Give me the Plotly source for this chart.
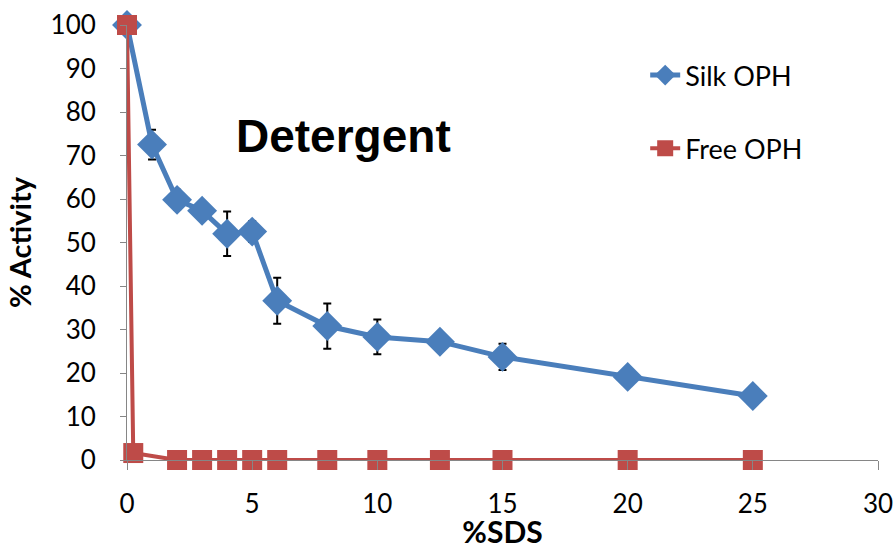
import plotly.graph_objects as go

sds_silk = [0, 1, 2, 3, 4, 5, 6, 8, 10, 12.5, 15, 20, 25]
silk_activity = [100, 72.5, 59.8, 57.3, 52.0, 52.5, 36.6, 30.8, 28.3, 27.2, 23.7, 19.1, 14.7]
silk_error = [0, 3.4, 2.3, 0, 5.1, 2.4, 5.3, 5.2, 4.0, 0, 3.0, 0, 0]

sds_free = [0, 0.25, 2, 3, 4, 5, 6, 8, 10, 12.5, 15, 20, 25]
free_activity = [100, 1.6, 0, 0, 0, 0, 0, 0, 0, 0, 0, 0, 0]

x_ticks = [0, 5, 10, 15, 20, 25, 30]
y_ticks = [0, 10, 20, 30, 40, 50, 60, 70, 80, 90, 100]

BLUE = "#4A7EBB"
RED = "#BE4B48"
FONT = "Lato"

fig = go.Figure()
fig.add_trace(go.Scatter(
    x=sds_silk, y=silk_activity, name="Silk OPH", mode="lines+markers",
    line=dict(color=BLUE, width=5),
    marker=dict(symbol="diamond", size=23, color=BLUE),
    error_y=dict(type="data", array=silk_error, visible=True, color="black", thickness=2, width=4),
    cliponaxis=False, legendgroup="a",
))
fig.add_trace(go.Scatter(
    x=sds_free, y=free_activity, name="Free OPH", mode="lines+markers",
    line=dict(color=RED, width=4),
    marker=dict(symbol="square", size=20, color=RED),
    cliponaxis=False, legendgroup="b",
))

fig.add_annotation(
    x=0.288, y=0.745, xref="paper", yref="paper", text="<b>Detergent</b>",
    xanchor="center", yanchor="middle",
    showarrow=False, font=dict(family="Liberation Sans", size=46, color="black"),
)

fig.update_layout(
    width=895, height=549,
    margin=dict(l=127, r=17, t=25, b=89, autoexpand=False),
    paper_bgcolor="white", plot_bgcolor="white",
    font=dict(family=FONT, color="black"),
    showlegend=True,
    legend=dict(
        x=0.69, y=0.80, xanchor="left", yanchor="middle",
        font=dict(family=FONT, size=27, color="black"),
        tracegroupgap=35, traceorder="grouped",
        bgcolor="rgba(0,0,0,0)",
    ),
    xaxis=dict(
        range=[0, 30], tickvals=x_ticks, ticks="outside", ticklen=9,
        tickcolor="#868686", showline=True, linecolor="#868686", linewidth=1,
        showgrid=False, zeroline=False, automargin=False,
        tickfont=dict(family=FONT, size=26, color="black"),
        ticklabelstandoff=12,
        title=dict(text="<b>%SDS</b>", font=dict(family=FONT, size=30, color="black"), standoff=4),
    ),
    yaxis=dict(
        range=[0, 100], tickvals=y_ticks, ticks="outside", ticklen=6,
        tickcolor="#868686", showline=True, linecolor="#868686", linewidth=1,
        showgrid=False, zeroline=False, automargin=False,
        tickfont=dict(family=FONT, size=26, color="black"),
        ticklabelstandoff=19,
        title=dict(text="<b>% Activity</b>", font=dict(family=FONT, size=29, color="black"), standoff=10),
    ),
)

fig.write_html(
    "out.html",
    config={"displayModeBar": False},
    post_script="document.body.style.margin='0';document.body.style.overflow='hidden';",
)
